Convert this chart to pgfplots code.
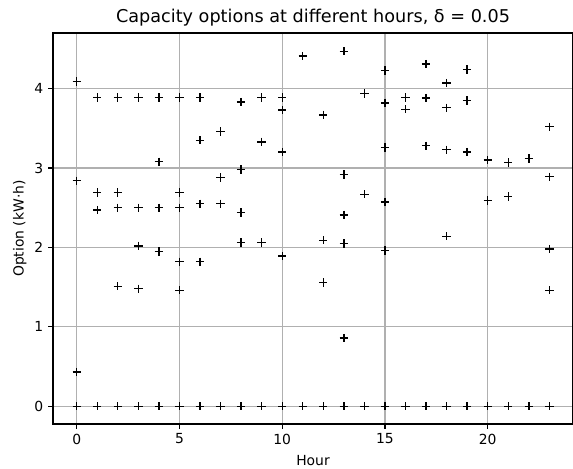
\documentclass[border=0pt]{standalone}
\usepackage{fontspec}
\setmainfont{DejaVu Sans}
\usepackage{pgfplots}
\pgfplotsset{compat=1.18}
\usepackage{pgfplotstable}
\definecolor{gridgray}{RGB}{176,176,176}
\pgfplotstableread{
h v
0 0
0 0.43
0 2.84
0 4.09
1 0
1 2.47
1 2.69
1 3.89
2 0
2 1.51
2 2.50
2 2.69
2 3.89
3 0
3 1.48
3 2.02
3 2.50
3 3.89
4 0
4 1.95
4 2.50
4 3.08
4 3.89
5 0
5 1.46
5 1.82
5 2.50
5 2.69
5 3.89
6 0
6 1.82
6 2.55
6 3.35
6 3.89
7 0
7 2.55
7 2.88
7 3.46
8 0
8 2.06
8 2.44
8 2.98
8 3.83
9 0
9 2.06
9 3.33
9 3.89
10 0
10 1.89
10 3.20
10 3.73
10 3.89
11 0
11 4.41
12 0
12 1.56
12 2.09
12 3.67
13 0
13 0.86
13 2.05
13 2.41
13 2.92
13 4.47
14 0
14 2.67
14 3.94
15 0
15 1.96
15 2.57
15 3.26
15 3.82
15 4.23
16 0
16 3.74
16 3.89
17 0
17 3.28
17 3.88
17 4.31
18 0
18 2.14
18 3.23
18 3.76
18 4.07
19 0
19 3.20
19 3.85
19 4.24
20 0
20 2.59
20 3.10
21 0
21 2.64
21 3.07
22 0
22 3.12
23 0
23 1.46
23 1.98
23 2.89
23 3.52
}\options
\begin{document}
\begin{tikzpicture}
\begin{axis}[
 name=ax,
 scale only axis, width=374.4pt, height=281.5pt,
 xmin=-1.15, xmax=24.15, ymin=-0.224, ymax=4.70,
 xtick={0,5,10,15,20}, ytick={0,1,2,3,4},
 grid=major,
 major grid style={color=gridgray, line width=0.8pt},
 axis line style={line width=0.8pt},
 tick align=outside, major tick length=3.5pt, tick pos=left,
 tick style={black, line width=0.8pt},
 ticklabel style={font=\fontsize{10}{12}\selectfont},
 /pgf/number format/assume math mode=true,
 title={Capacity options at different hours, δ = 0.05},
 title style={font=\fontsize{12.7}{15}\selectfont, yshift=-4.5pt},
 xlabel={Hour}, ylabel={Option (kW·h)},
 label style={font=\fontsize{10}{12}\selectfont},
 xlabel style={yshift=-1.5pt},
 ylabel style={yshift=-1.2pt},
]
\addplot[only marks, mark=+, mark size=3pt, black, mark options={line width=1pt}] table[x=h, y=v] {\options};
\end{axis}
\pgfresetboundingbox
\path[use as bounding box] ([shift={(-38.2pt,-31.7pt)}]ax.south west) rectangle ([shift={(0pt,23.8pt)}]ax.north east);
\end{tikzpicture}
\end{document}
